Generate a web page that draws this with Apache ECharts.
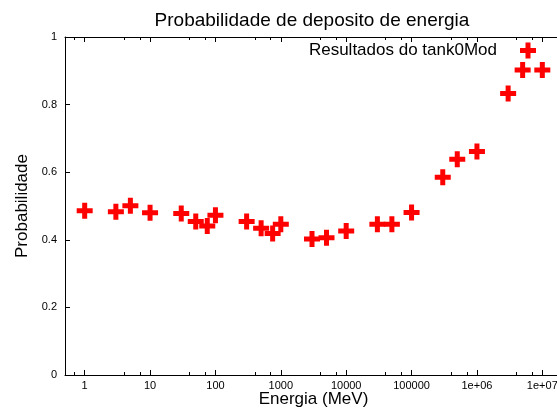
<!DOCTYPE html>
<html>
<head>
<meta charset="utf-8">
<script src="https://cdn.jsdelivr.net/npm/echarts@6/dist/echarts.min.js"></script>
<style>
html,body{margin:0;padding:0;background:#fff;}
#c{width:557px;height:409px;}
</style>
</head>
<body>
<div id="c"></div>
<script>
// Data
var energies = [1, 3, 5, 10, 30, 50, 75, 100, 300, 500, 750, 1000, 3000, 5000, 10000, 30000, 50000, 100000, 300000, 500000, 1000000, 3000000, 5000000, 10000000];
var probabilities = [0.486, 0.483, 0.501, 0.480, 0.478, 0.454, 0.441, 0.473, 0.454, 0.434, 0.419, 0.446, 0.402, 0.406, 0.426, 0.446, 0.446, 0.481, 0.585, 0.638, 0.661, 0.833, 0.902, 0.902];
var xTickValues = [1, 10, 100, 1000, 10000, 100000, 1000000, 10000000];
var xTickLabels = ['1', '10', '100', '1000', '10000', '100000', '1e+06', '1e+07'];
var yTickLabels = ['0', '0.2', '0.4', '0.6', '0.8', '1'];
var seriesName = 'Resultados do tank0Mod';
var titleText = 'Probabilidade de deposito de energia';
var xName = 'Energia (MeV)';
var yName = 'Probabilidade';

var points = energies.map(function (e, i) { return [e, probabilities[i]]; });
var plus = 'path://M5.5,0H10.5V5.5H16V10.5H10.5V16H5.5V10.5H0V5.5H5.5Z';
var font = '"Liberation Sans", Arial, sans-serif';

function xLabel(v) {
  for (var i = 0; i < xTickValues.length; i++) {
    if (Math.abs(v - xTickValues[i]) / xTickValues[i] < 1e-6) return xTickLabels[i];
  }
  return '';
}
function yLabel(v) {
  var idx = Math.round(v / 0.2);
  if (Math.abs(v - idx * 0.2) < 1e-6 && yTickLabels[idx] !== undefined) return yTickLabels[idx];
  return '';
}

var chart = echarts.init(document.getElementById('c'), null, {renderer: 'canvas'});
var axisLine = {show: true, onZero: false, lineStyle: {color: '#000', width: 1}};
var option = {
  animation: false,
  backgroundColor: '#fff',
  textStyle: {fontFamily: font},
  title: {
    text: titleText,
    left: 312, top: 11, textAlign: 'center', padding: 0,
    textStyle: {fontFamily: font, fontSize: 19, fontWeight: 'normal', color: '#000'}
  },
  legend: {
    data: [seriesName],
    right: 21, top: 42, padding: 0,
    align: 'right',
    itemWidth: 16, itemHeight: 16, itemGap: 10,
    icon: plus,
    itemStyle: {color: '#ff0000', opacity: 1},
    textStyle: {fontFamily: font, fontSize: 17, color: '#000', padding: [0, 18, 0, 0]}
  },
  grid: {left: 65, right: -5, top: 37, bottom: 34, containLabel: false, outerBoundsMode: 'none'},
  xAxis: [{
    type: 'log', logBase: 10, min: 0.5, max: 20000000,
    position: 'bottom',
    name: xName, nameLocation: 'middle', nameGap: 16, nameMoveOverlap: false,
    nameTextStyle: {fontFamily: font, fontSize: 17, color: '#000'},
    axisLine: axisLine,
    axisTick: {show: true, inside: true, length: 5, lineStyle: {color: '#000'}},
    minorTick: {show: true, splitNumber: 3, length: 3, lineStyle: {color: '#000'}},
    axisLabel: {formatter: xLabel, fontFamily: font, fontSize: 11, color: '#000', margin: 5, showMinLabel: true, showMaxLabel: true},
    splitLine: {show: false}
  }, {
    type: 'log', logBase: 10, min: 0.5, max: 20000000,
    position: 'top',
    axisLine: axisLine,
    axisTick: {show: true, inside: true, length: 5, lineStyle: {color: '#000'}},
    minorTick: {show: true, splitNumber: 3, length: 3, lineStyle: {color: '#000'}},
    axisLabel: {show: false},
    splitLine: {show: false}
  }],
  yAxis: [{
    type: 'value', min: 0, max: 1, interval: 0.2,
    position: 'left',
    name: yName, nameLocation: 'middle', nameGap: 34, nameRotate: 90, nameMoveOverlap: false,
    nameTextStyle: {fontFamily: font, fontSize: 17, color: '#000'},
    axisLine: axisLine,
    axisTick: {show: true, inside: true, length: 5, lineStyle: {color: '#000'}},
    axisLabel: {formatter: yLabel, fontFamily: font, fontSize: 11, color: '#000', margin: 8},
    splitLine: {show: false}
  }, {
    type: 'value', min: 0, max: 1, interval: 0.2,
    position: 'right',
    axisLine: axisLine,
    axisTick: {show: true, inside: true, length: 5, lineStyle: {color: '#000'}},
    axisLabel: {show: false},
    splitLine: {show: false}
  }],
  series: [{
    name: seriesName,
    type: 'scatter',
    xAxisIndex: 0, yAxisIndex: 0,
    symbol: plus,
    symbolSize: 16,
    itemStyle: {color: '#ff0000', opacity: 1},
    data: points
  }]
};
chart.setOption(option);
</script>
</body>
</html>
